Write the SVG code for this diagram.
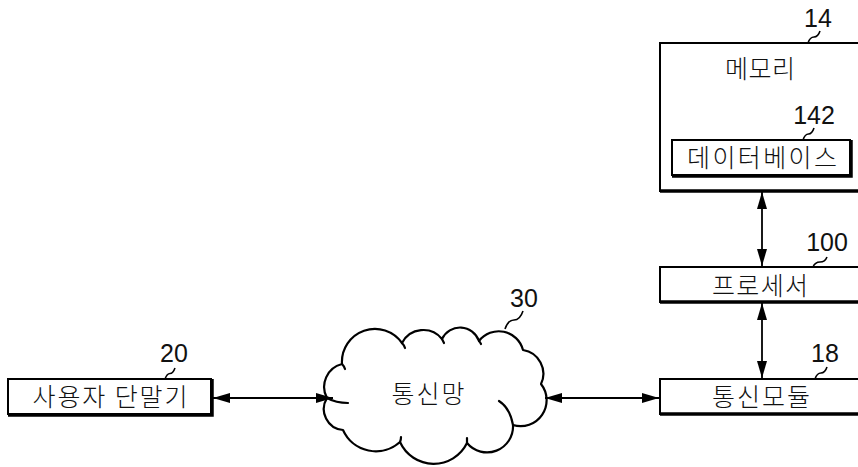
<svg xmlns="http://www.w3.org/2000/svg" width="858" height="467" viewBox="0 0 858 467">
<style>
.box{fill:#fff;stroke:#000;stroke-width:2}
.sh{fill:none;stroke:#000;stroke-width:3.5}
.lbl{font-family:"Noto Sans CJK KR","Noto Sans",sans-serif;font-size:25px;font-weight:300;fill:#111;text-anchor:middle}
.num{font-family:"Liberation Sans",Arial,sans-serif;font-size:25px;fill:#111;text-anchor:middle}
.ld{fill:none;stroke:#000;stroke-width:1.6}
.con{fill:none;stroke:#000;stroke-width:1.8;marker-start:url(#ah);marker-end:url(#ah)}
.cloud{fill:#fff;stroke:#000;stroke-width:2.2;stroke-linejoin:round}
.hook{fill:none;stroke:#000;stroke-width:2.2;stroke-linecap:round}
</style>
<defs>
<marker id="ah" markerUnits="userSpaceOnUse" markerWidth="18" markerHeight="12" refX="17" refY="5" orient="auto-start-reverse" viewBox="0 0 18 10">
<path d="M0,0 L17,5 L0,10 Z" fill="#000"/>
</marker>
</defs>
<rect width="858" height="467" fill="#fff"/>

<g id="memory">
<rect class="box" x="660" y="43" width="210" height="148"/>
<line class="sh" x1="660" y1="191" x2="858" y2="191"/>
<text class="lbl" x="760" y="78" textLength="70" lengthAdjust="spacing">메모리</text>
<text class="num" x="818" y="27">14</text>
<path class="ld" d="M808,43 q2,-6 6,-6 t6,-6"/>
</g>

<g id="database">
<rect class="box" x="672" y="140" width="178" height="35"/>
<path class="sh" d="M851,140 V176 H672"/>
<text class="lbl" x="762" y="167" textLength="150" lengthAdjust="spacing">데이터베이스</text>
<text class="num" x="814" y="124">142</text>
<path class="ld" d="M803,140 q2,-6 5.5,-6 t5.5,-6"/>
</g>

<g id="processor">
<rect class="box" x="660" y="267" width="210" height="35"/>
<line class="sh" x1="660" y1="302" x2="858" y2="302"/>
<text class="lbl" x="760" y="295" textLength="96" lengthAdjust="spacing">프로세서</text>
<text class="num" x="827" y="251">100</text>
<path class="ld" d="M813,267 q2,-5 7,-5 t7,-5"/>
</g>

<g id="comm-module">
<rect class="box" x="660" y="379" width="210" height="35"/>
<line class="sh" x1="660" y1="414" x2="858" y2="414"/>
<text class="lbl" x="761" y="406" textLength="98" lengthAdjust="spacing">통신모듈</text>
<text class="num" x="825" y="362">18</text>
<path class="ld" d="M815,379 q2,-6 6,-6 t6,-6"/>
</g>

<g id="user-terminal">
<rect class="box" x="8" y="379" width="203" height="35"/>
<path class="sh" d="M212,379 V415 H8"/>
<text class="lbl" x="110" y="406" textLength="155" lengthAdjust="spacing">사용자 단말기</text>
<text class="num" x="174" y="362">20</text>
<path class="ld" d="M165,379 q2,-5.5 5,-5.5 t5,-5.5"/>
</g>

<g id="network">
<path class="cloud" d="M327,398 A23.5,23.5 0 0 1 342,364 A33,33 0 0 1 402,343 A24,24 0 0 1 442,339 A20,20 0 0 1 479,341 A25,25 0 0 1 523,350 A24,24 0 0 1 541,384 A26,26 0 0 1 513,425 A26,26 0 0 1 467,443 A37,37 0 0 1 400,442 A36,36 0 0 1 343,430 A21,21 0 0 1 327,398 Z"/>
<path class="hook" d="M327,398 Q336,403 348,403"/>
<path class="hook" d="M342,364 Q344,366 345,369"/>
<path class="hook" d="M402,343 Q404,345 405,348"/>
<path class="hook" d="M442,339 Q443,341 444,343"/>
<path class="hook" d="M479,341 Q480,342 481,344"/>
<path class="hook" d="M513,425 Q510,408 499,401"/>
<path class="hook" d="M467,443 Q467,440 467,438"/>
<path class="hook" d="M400,442 Q401,440 401,437"/>
<text class="lbl" x="428" y="403" textLength="73" lengthAdjust="spacing">통신망</text>
<text class="num" x="524" y="307">30</text>
<path class="ld" d="M505,329 q3,-9 9,-9 t9,-9"/>
</g>

<g id="connectors">
<line class="con" x1="762" y1="192" x2="762" y2="266"/>
<line class="con" x1="762" y1="303" x2="762" y2="378"/>
<line class="con" x1="213" y1="398" x2="333" y2="398"/>
<line class="con" x1="545" y1="398" x2="659" y2="398"/>
</g>
</svg>
